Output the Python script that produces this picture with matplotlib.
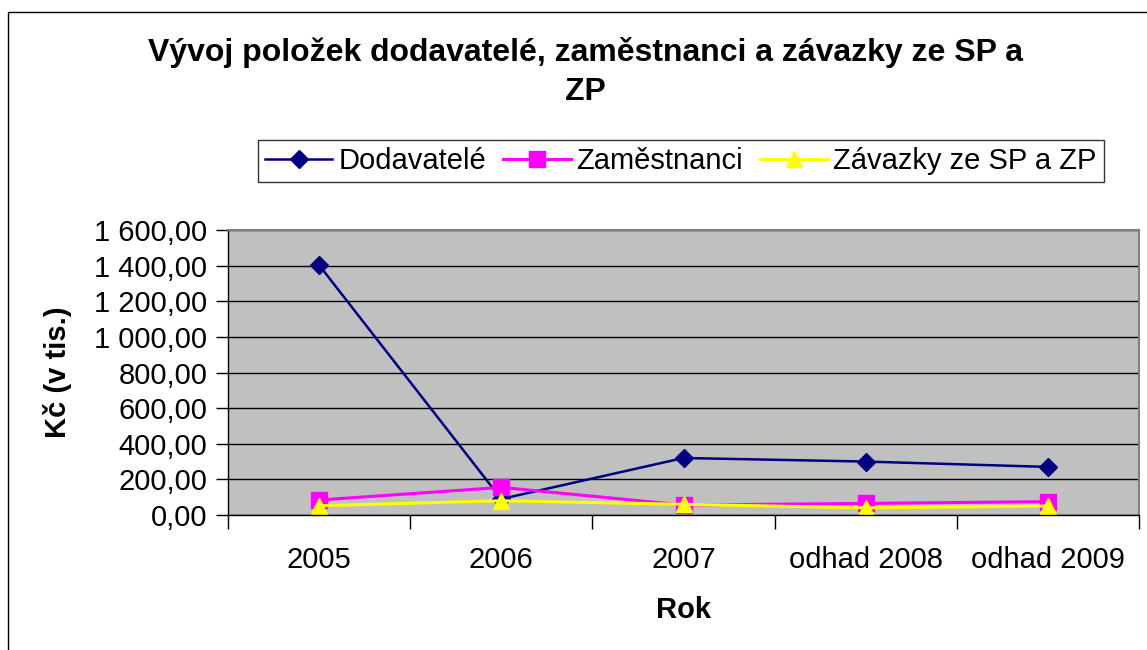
import matplotlib.pyplot as plt
from matplotlib.patches import Rectangle
from matplotlib.ticker import FuncFormatter, FixedLocator

plt.rcParams['font.family'] = ['Liberation Sans', 'DejaVu Sans']

years = ["2005", "2006", "2007", "odhad 2008", "odhad 2009"]
dodavatele = [1403, 90, 320, 300, 270]
zamestnanci = [84, 155, 56, 65, 75]
zavazky = [52, 80, 60, 40, 50]

W, H = 1147, 650
fig = plt.figure(figsize=(W / 100, H / 100), dpi=100)
ax = fig.add_axes([228/W, 1 - 515/H, (1139-228)/W, (515-230)/H])
ax.set_facecolor("#c0c0c0")

# outer chart border
fig.patches.append(Rectangle((8/W, -0.1), 1.2, 1 - 12/H + 0.1, transform=fig.transFigure,
                             fill=False, edgecolor="black", linewidth=1))

x = list(range(len(years)))
ax.plot(x, dodavatele, color="#000080", marker="D", markersize=9, linewidth=1.8, label="Dodavatelé")
ax.plot(x, zamestnanci, color="#ff00ff", marker="s", markersize=11, linewidth=2.2, label="Zaměstnanci")
ax.plot(x, zavazky, color="#ffff00", marker="^", markersize=12, linewidth=2.2, label="Závazky ze SP a ZP")

ax.set_xlim(-0.5, len(years) - 0.5)
ax.set_ylim(0, 1600)
ax.set_yticks(range(0, 1601, 200))
ax.yaxis.grid(True, color="black", linewidth=1)
ax.set_axisbelow(True)

def fmt(v, pos):
    s = f"{v:,.2f}".replace(",", " ").replace(".", ",")
    return s
ax.yaxis.set_major_formatter(FuncFormatter(fmt))

ax.xaxis.set_major_locator(FixedLocator([i - 0.5 for i in range(len(years) + 1)]))
ax.xaxis.set_minor_locator(FixedLocator(x))
ax.set_xticklabels([], minor=False)
ax.set_xticklabels(years, minor=True)
ax.tick_params(axis="x", which="major", length=10, width=1, direction="out")
ax.tick_params(axis="x", which="minor", length=0, pad=22, labelsize=21)
ax.tick_params(axis="y", length=9, width=1, labelsize=21, pad=6)

for side in ["top", "right"]:
    ax.spines[side].set_color("#808080")
    ax.spines[side].set_linewidth(1.5)
for side in ["left", "bottom"]:
    ax.spines[side].set_color("black")
    ax.spines[side].set_linewidth(1)

ax.set_xlabel("Rok", fontsize=21, fontweight="bold", labelpad=16)
ax.set_ylabel("Kč (v tis.)", fontsize=21, fontweight="bold", labelpad=16)

fig.text(585/W, 1 - 52/H, "Vývoj položek dodavatelé, zaměstnanci a závazky ze SP a",
         ha="center", va="center", fontsize=23, fontweight="bold")
fig.text(585/W, 1 - 92/H, "ZP", ha="center", va="center", fontsize=23, fontweight="bold")

leg = ax.legend(loc="center", bbox_to_anchor=((681-228)/911, (515-161)/285), ncol=3,
                fontsize=21, frameon=True, fancybox=False, edgecolor="black",
                handlelength=2.3, handletextpad=0.2, columnspacing=0.6, borderpad=0.25,
                borderaxespad=0)
leg.get_frame().set_linewidth(1)

fig.savefig("out.png", dpi=100)
